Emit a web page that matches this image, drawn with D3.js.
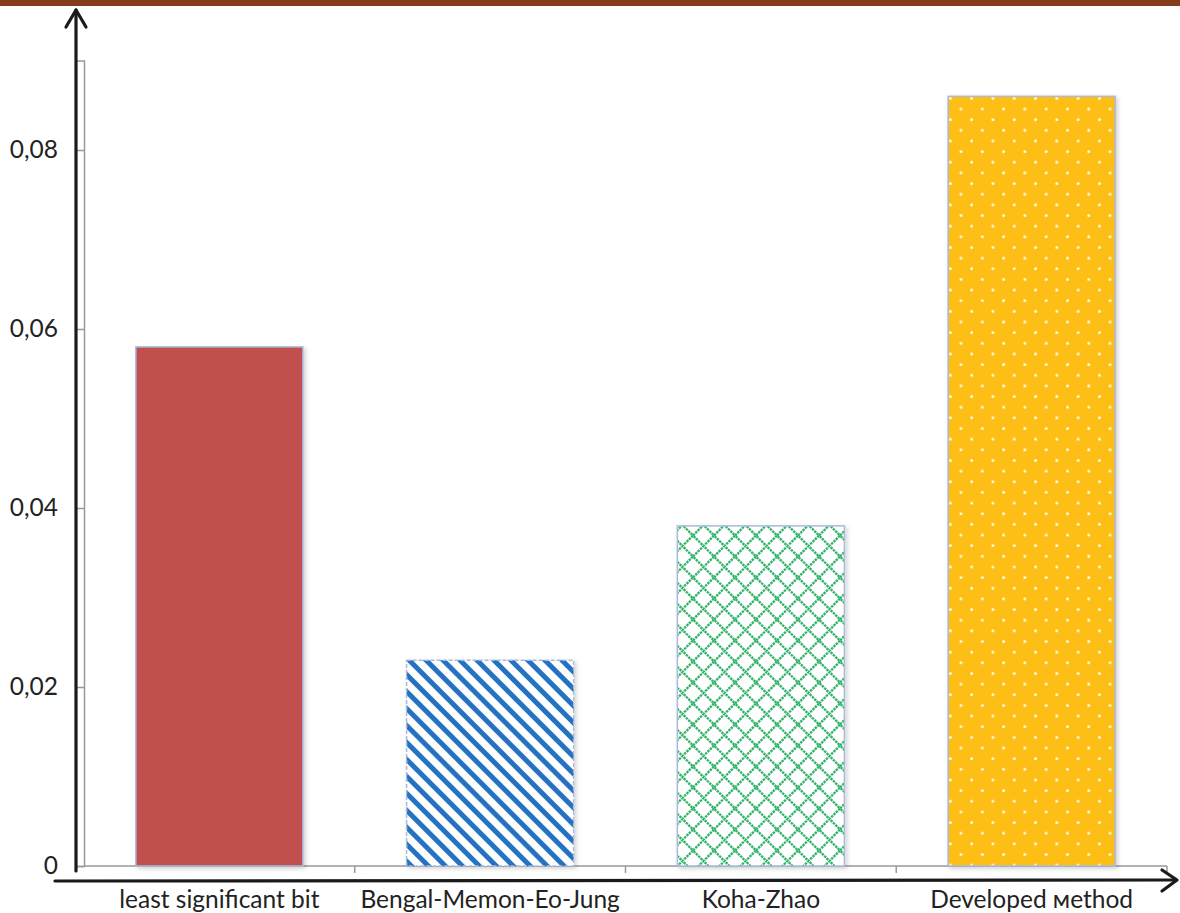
<!DOCTYPE html>
<html>
<head>
<meta charset="utf-8">
<script src="https://cdn.jsdelivr.net/npm/d3@7"></script>
<style>
  html, body { margin: 0; padding: 0; background: #fff; }
  svg { display: block; }
  text { font-family: Lato, "Open Sans", sans-serif; fill: #222; }
</style>
</head>
<body>
<svg id="chart" width="1180" height="913"></svg>
<script>
const categories = ["least significant bit", "Bengal-Memon-Eo-Jung", "Koha-Zhao", "Developed мethod"];
const values = [0.058, 0.023, 0.038, 0.086];
const tickValues = [0, 0.02, 0.04, 0.06, 0.08];
const tickLabels = ["0", "0,02", "0,04", "0,06", "0,08"];
const fills = ["solid", "stripes", "lattice", "dots"];

const W = 1180, H = 913;
const svg = d3.select("#chart");
const defs = svg.append("defs");

// patterns
const pStripe = defs.append("pattern").attr("id", "stripes")
  .attr("patternUnits", "userSpaceOnUse").attr("width", 12).attr("height", 12)
  .attr("patternTransform", "rotate(-45)");
pStripe.append("rect").attr("width", 12).attr("height", 12).attr("fill", "#fff");
pStripe.append("rect").attr("x", 0).attr("width", 5).attr("height", 12).attr("fill", "#2872c2");

const L = 21;
const pLat = defs.append("pattern").attr("id", "lattice")
  .attr("patternUnits", "userSpaceOnUse").attr("width", L).attr("height", L);
pLat.append("rect").attr("width", L).attr("height", L).attr("fill", "#fff");
pLat.append("path").attr("d", `M0,${L/2} L${L/2},0 L${L},${L/2} L${L/2},${L} Z`)
  .attr("fill", "none").attr("stroke", "#2eb368").attr("stroke-width", 2.3)
  .attr("stroke-dasharray", "2.5,0.8");

const D = 21.3;
const pDot = defs.append("pattern").attr("id", "dots")
  .attr("patternUnits", "userSpaceOnUse").attr("width", D).attr("height", D);
pDot.append("rect").attr("width", D).attr("height", D).attr("fill", "#fdbe14");
pDot.append("circle").attr("cx", 2.5).attr("cy", 2.5).attr("r", 1.5).attr("fill", "#fff8e0");
pDot.append("circle").attr("cx", 2.5 + D / 2).attr("cy", 2.5 + D / 2).attr("r", 1.5).attr("fill", "#fff8e0");

const shadow = defs.append("filter").attr("id", "shadow")
  .attr("x", "-10%").attr("y", "-10%").attr("width", "130%").attr("height", "130%");
shadow.append("feDropShadow").attr("dx", 2).attr("dy", 2).attr("stdDeviation", 2)
  .attr("flood-color", "#000").attr("flood-opacity", 0.18);

// top brown rule
svg.append("rect").attr("x", 0).attr("y", 0).attr("width", W).attr("height", 6).attr("fill", "#843c1c");

// scales
const x = d3.scaleBand().domain(categories).range([84, 1167]).paddingInner(0.383).paddingOuter(0.1915);
const y = d3.scaleLinear().domain([0, 0.09]).range([866, 60.5]);

// y axis (gray)
const yAxis = d3.axisLeft(y).tickValues(tickValues).tickFormat((d, i) => tickLabels[i]).tickSize(7).tickPadding(19);
const gy = svg.append("g").attr("transform", "translate(84,0)").call(yAxis);
gy.select(".domain").attr("stroke", "#999").attr("stroke-width", 1.5);
gy.selectAll(".tick line").attr("stroke", "#999").attr("stroke-width", 1.5);
gy.selectAll(".tick text").attr("font-size", 24.5).style("font-family", "Lato, 'Open Sans', sans-serif").attr("fill", "#222");

// x baseline with category boundary ticks
const band = x.step();
const gx = svg.append("g");
gx.append("line").attr("x1", 84).attr("x2", 1167).attr("y1", y(0)).attr("y2", y(0))
  .attr("stroke", "#999").attr("stroke-width", 1.5);
gx.selectAll("line.bt").data(categories).join("line").attr("class", "bt")
  .attr("x1", (d) => x(d) + x.bandwidth() + x.paddingInner() * band / 2)
  .attr("x2", (d) => x(d) + x.bandwidth() + x.paddingInner() * band / 2)
  .attr("y1", y(0)).attr("y2", y(0) + 7).attr("stroke", "#999").attr("stroke-width", 1.5);

// bars
svg.append("g").selectAll("rect").data(values).join("rect")
  .attr("x", (d, i) => x(categories[i]))
  .attr("width", x.bandwidth())
  .attr("y", (d) => y(d))
  .attr("height", (d) => y(0) - y(d))
  .attr("fill", (d, i) => fills[i] === "solid" ? "#c0504d" : `url(#${fills[i]})`)
  .attr("stroke", "#a9bbdc").attr("stroke-width", 1.5)
  .attr("stroke-dasharray", (d, i) => fills[i] === "stripes" ? "4,2" : null)
  .attr("filter", "url(#shadow)");

// category labels
svg.append("g").selectAll("text").data(categories).join("text")
  .attr("x", (d) => x(d) + x.bandwidth() / 2)
  .attr("y", 908)
  .attr("text-anchor", "middle").attr("font-size", 24.5)
  .text((d) => d);

// black arrow axes
const axes = svg.append("g").attr("fill", "none").attr("stroke", "#1a1a1a").attr("stroke-width", 3.2)
  .attr("stroke-linecap", "round").attr("stroke-linejoin", "round");
axes.append("line").attr("x1", 76).attr("y1", 871).attr("x2", 76).attr("y2", 10);
axes.append("path").attr("d", "M66,27 L76,10 L86,27");
axes.append("line").attr("x1", 55).attr("y1", 881).attr("x2", 1176).attr("y2", 880);
axes.append("path").attr("d", "M1162,870 L1177,880 L1162,891");
</script>
</body>
</html>
